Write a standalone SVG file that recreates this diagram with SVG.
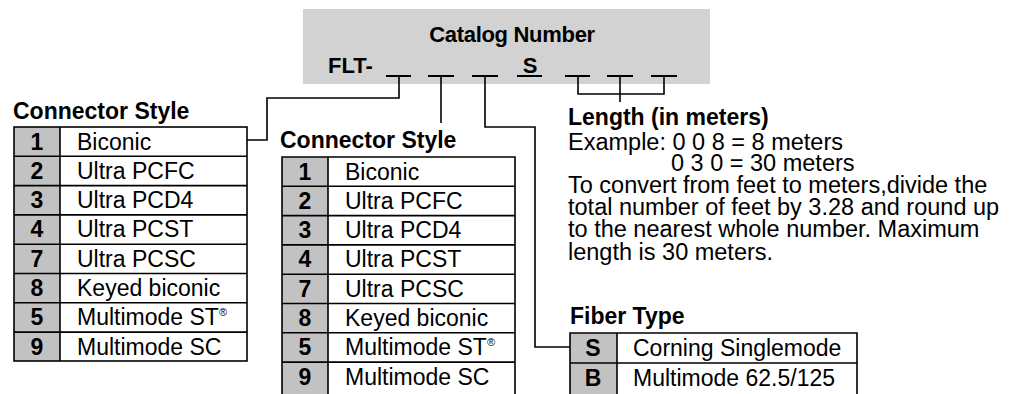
<svg xmlns="http://www.w3.org/2000/svg" width="1017" height="394" viewBox="0 0 1017 394">
<style>
  text { font-family: "Liberation Sans", Arial, Helvetica, sans-serif; fill: #000; }
  .h { font-size: 23px; font-weight: bold; }
  .t { font-size: 23px; }
  .p { font-size: 23.5px; }
  .n { font-size: 23px; font-weight: bold; text-anchor: middle; }
  .cell { fill: #c2c2c2; }
  .box { fill: none; stroke: #000; stroke-width: 1.6; }
  .ln { fill: none; stroke: #000; stroke-width: 1.6; }
  .blank { fill: none; stroke: #000; stroke-width: 2.2; }
  .sup { font-size: 11px; }
</style>
<rect width="1017" height="394" fill="#fff"/>

<g id="catalog-number">
  <rect x="303" y="9" width="407" height="75" fill="#d2d2d2"/>
  <text x="512" y="42" font-size="22" font-weight="bold" text-anchor="middle" letter-spacing="-0.3">Catalog Number</text>
  <text x="328" y="73" font-size="22" font-weight="bold">FLT-</text>
  <text x="530" y="73" font-size="22" font-weight="bold" text-anchor="middle">S</text>
  <path class="blank" d="M386 76H411 M428 76H454 M472 76H498 M517 76H542 M565 76H590 M607 76H633 M651 76H677"/>
</g>

<g id="connectors">
  <path class="ln" d="M399 76V98H267V140H247"/>
  <path class="ln" d="M441 76V123"/>
  <path class="ln" d="M485 76V127H535V347H570"/>
  <path class="ln" d="M578 76V94H664V76 M620 76V102"/>
</g>

<g id="connector-style-1">
  <text class="h" x="13" y="119">Connector Style</text>
  <rect class="cell" x="14" y="127" width="46" height="234"/>
  <rect class="box" x="14" y="127" width="233" height="234"/>
  <path class="ln" d="M60 127V361 M14 156.3H247 M14 185.6H247 M14 214.9H247 M14 244.2H247 M14 273.5H247 M14 302.8H247 M14 332.1H247"/>
  <text class="n" x="37" y="149.5">1</text><text class="t" x="77" y="149.5">Biconic</text>
  <text class="n" x="37" y="178.8">2</text><text class="t" x="77" y="178.8">Ultra PCFC</text>
  <text class="n" x="37" y="208.1">3</text><text class="t" x="77" y="208.1">Ultra PCD4</text>
  <text class="n" x="37" y="237.4">4</text><text class="t" x="77" y="237.4">Ultra PCST</text>
  <text class="n" x="37" y="266.7">7</text><text class="t" x="77" y="266.7">Ultra PCSC</text>
  <text class="n" x="37" y="296">8</text><text class="t" x="77" y="296">Keyed biconic</text>
  <text class="n" x="37" y="325.3">5</text><text class="t" x="77" y="325.3">Multimode ST<tspan class="sup" dy="-9">®</tspan></text>
  <text class="n" x="37" y="354.6">9</text><text class="t" x="77" y="354.6">Multimode SC</text>
</g>

<g id="connector-style-2">
  <text class="h" x="280" y="148">Connector Style</text>
  <rect class="cell" x="282" y="157" width="46" height="240"/>
  <path class="ln" d="M282 400V157H515V400 M328 157V400 M282 186.3H515 M282 215.6H515 M282 244.9H515 M282 274.2H515 M282 303.5H515 M282 332.8H515 M282 362.1H515"/>
  <text class="n" x="305" y="179.5">1</text><text class="t" x="345" y="179.5">Biconic</text>
  <text class="n" x="305" y="208.8">2</text><text class="t" x="345" y="208.8">Ultra PCFC</text>
  <text class="n" x="305" y="238.1">3</text><text class="t" x="345" y="238.1">Ultra PCD4</text>
  <text class="n" x="305" y="267.4">4</text><text class="t" x="345" y="267.4">Ultra PCST</text>
  <text class="n" x="305" y="296.7">7</text><text class="t" x="345" y="296.7">Ultra PCSC</text>
  <text class="n" x="305" y="326">8</text><text class="t" x="345" y="326">Keyed biconic</text>
  <text class="n" x="305" y="355.3">5</text><text class="t" x="345" y="355.3">Multimode ST<tspan class="sup" dy="-9">®</tspan></text>
  <text class="n" x="305" y="384.6">9</text><text class="t" x="345" y="384.6">Multimode SC</text>
</g>

<g id="length">
  <text class="h" x="568" y="125">Length (in meters)</text>
  <text class="p"><tspan x="568" y="150">Example: 0 0 8 = 8 meters</tspan><tspan x="671" y="171">0 3 0 = 30 meters</tspan><tspan x="568" y="193">To convert from feet to meters,divide the</tspan><tspan x="568" y="215">total number of feet by 3.28 and round up</tspan><tspan x="568" y="237">to the nearest whole number. Maximum</tspan><tspan x="568" y="260">length is 30 meters.</tspan></text>
</g>

<g id="fiber-type">
  <text class="h" x="570" y="324">Fiber Type</text>
  <rect class="cell" x="570" y="333" width="47" height="65"/>
  <path class="ln" d="M570 400V333H857V400 M617 333V400 M570 363H857"/>
  <text class="n" x="593" y="355.5">S</text><text class="t" x="633" y="355.5">Corning Singlemode</text>
  <text class="n" x="593" y="386">B</text><text class="t" x="633" y="386">Multimode 62.5/125</text>
</g>
</svg>
